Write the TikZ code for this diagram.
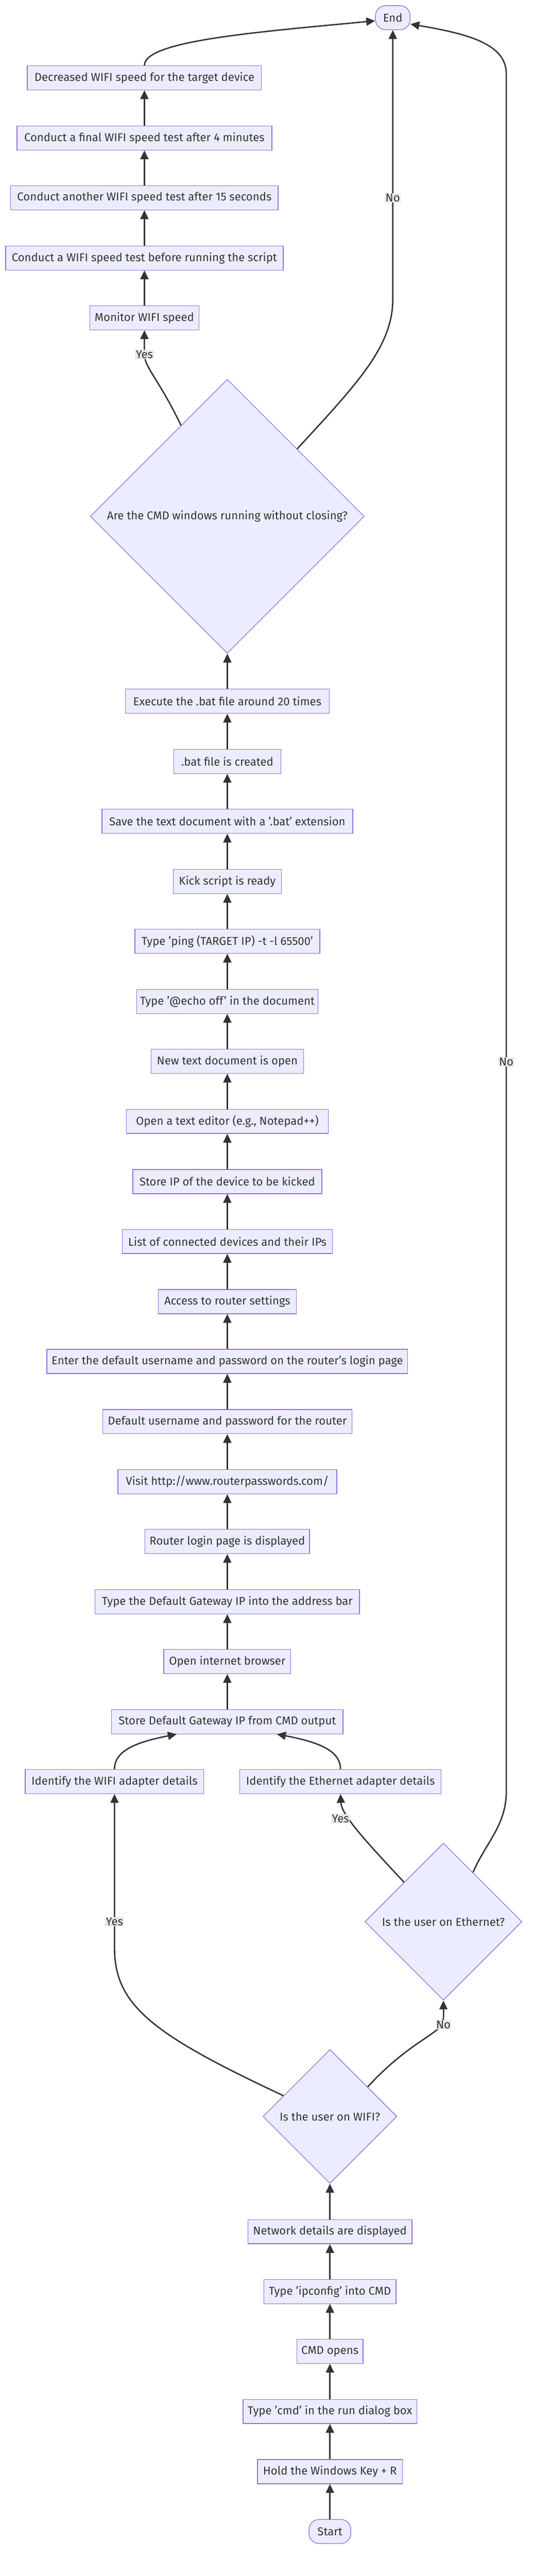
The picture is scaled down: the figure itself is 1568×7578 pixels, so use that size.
\documentclass[tikz,border=0pt]{standalone}
\usepackage{fontspec}
\setmainfont{Fira Sans}
\usetikzlibrary{shapes.geometric,arrows.meta}
\definecolor{nodefill}{HTML}{ECECFF}
\definecolor{nodestroke}{HTML}{9370DB}
\definecolor{edgecol}{HTML}{333333}
\definecolor{txtcol}{HTML}{333333}
\definecolor{lblbg}{HTML}{E8E8E8}
\begin{document}
\begin{tikzpicture}[x=1pt,y=-1pt,
  txt/.style={text=txtcol, font=\fontsize{33.5}{38}\selectfont},
  box/.style={txt, draw=nodestroke, fill=nodefill, line width=2pt, minimum height=71pt, inner sep=0pt},
  term/.style={box, rounded corners=30pt},
  decision/.style={txt, diamond, draw=nodestroke, fill=nodefill, line width=2pt, inner sep=0pt},
  flow/.style={draw=edgecol, line width=4pt, -{Triangle[length=26pt,width=24pt]}},
  lbl/.style={txt, fill=lblbg, inner sep=2pt}
]
\useasboundingbox (0,0) rectangle (1568,7578);
% nodes
\node[term, minimum width=102pt] (nEnd) at (1156,52) {End};
\node[box, minimum width=689pt] (dec) at (425,229) {Decreased WIFI speed for the target device};
\node[box, minimum width=750pt] (fin) at (425,406) {Conduct a final WIFI speed test after 4 minutes};
\node[box, minimum width=787pt] (ano) at (425,582) {Conduct another WIFI speed test after 15 seconds};
\node[box, minimum width=817pt] (bef) at (425,759) {Conduct a WIFI speed test before running the script};
\node[box, minimum width=321pt] (mon) at (425,935) {Monitor WIFI speed};
\node[decision, minimum width=806pt, minimum height=806pt] (cmdq) at (669,1519) {Are the CMD windows running without closing?};
\node[box, minimum width=600pt] (exe) at (669,2063) {Execute the .bat file around 20 times};
\node[box, minimum width=316pt] (bat) at (669,2240) {.bat file is created};
\node[box, minimum width=738pt] (save) at (669,2416) {Save the text document with a '.bat' extension};
\node[box, minimum width=318pt] (kick) at (669,2593) {Kick script is ready};
\node[box, minimum width=544pt] (ping) at (669,2769) {Type 'ping (TARGET IP) -t -l 65500'};
\node[box, minimum width=534pt] (echo) at (669,2946) {Type '@echo off' in the document};
\node[box, minimum width=448pt] (newdoc) at (669,3122) {New text document is open};
\node[box, minimum width=594pt] (editor) at (669,3299) {Open a text editor (e.g., Notepad++)};
\node[box, minimum width=556pt] (storeip) at (669,3476) {Store IP of the device to be kicked};
\node[box, minimum width=618pt] (list) at (669,3652) {List of connected devices and their IPs};
\node[box, minimum width=406pt] (access) at (669,3829) {Access to router settings};
\node[box, minimum width=1062pt] (enter) at (669,4005) {Enter the default username and password on the router's login page};
\node[box, minimum width=734pt] (default) at (669,4182) {Default username and password for the router};
\node[box, minimum width=644pt] (visit) at (669,4359) {Visit http://www.routerpasswords.com/};
\node[box, minimum width=484pt] (login) at (669,4535) {Router login page is displayed};
\node[box, minimum width=778pt] (gateway) at (669,4712) {Type the Default Gateway IP into the address bar};
\node[box, minimum width=374pt] (browser) at (669,4888) {Open internet browser};
\node[box, minimum width=681pt] (storegw) at (669,5065) {Store Default Gateway IP from CMD output};
\node[box, minimum width=525pt] (idwifi) at (337,5241) {Identify the WIFI adapter details};
\node[box, minimum width=592pt] (ideth) at (1002,5241) {Identify the Ethernet adapter details};
\node[decision, minimum width=462pt, minimum height=462pt] (ethq) at (1305,5653) {Is the user on Ethernet?};
\node[decision, minimum width=394pt, minimum height=394pt] (wifiq) at (971,6226) {Is the user on WIFI?};
\node[box, minimum width=483pt] (net) at (971,6565) {Network details are displayed};
\node[box, minimum width=389pt] (ipconfig) at (971,6741) {Type 'ipconfig' into CMD};
\node[box, minimum width=195pt] (cmdopens) at (971,6917) {CMD opens};
\node[box, minimum width=511pt] (typecmd) at (971,7094) {Type 'cmd' in the run dialog box};
\node[box, minimum width=426pt] (hold) at (971,7271) {Hold the Windows Key + R};
\node[term, minimum width=123pt] (start) at (971,7447) {Start};
% straight edges
\draw[flow] (start) -- (hold);
\draw[flow] (hold) -- (typecmd);
\draw[flow] (typecmd) -- (cmdopens);
\draw[flow] (cmdopens) -- (ipconfig);
\draw[flow] (ipconfig) -- (net);
\draw[flow] (net) -- (wifiq);
\draw[flow] (storegw) -- (browser);
\draw[flow] (browser) -- (gateway);
\draw[flow] (gateway) -- (login);
\draw[flow] (login) -- (visit);
\draw[flow] (visit) -- (default);
\draw[flow] (default) -- (enter);
\draw[flow] (enter) -- (access);
\draw[flow] (access) -- (list);
\draw[flow] (list) -- (storeip);
\draw[flow] (storeip) -- (editor);
\draw[flow] (editor) -- (newdoc);
\draw[flow] (newdoc) -- (echo);
\draw[flow] (echo) -- (ping);
\draw[flow] (ping) -- (kick);
\draw[flow] (kick) -- (save);
\draw[flow] (save) -- (bat);
\draw[flow] (bat) -- (exe);
\draw[flow] (exe) -- (cmdq);
\draw[flow] (mon) -- (bef);
\draw[flow] (bef) -- (ano);
\draw[flow] (ano) -- (fin);
\draw[flow] (fin) -- (dec);
% curved edges
\draw[flow] (dec.north) .. controls (425,120) and (750,95) .. (nEnd.190);
\draw[flow] (idwifi.north) .. controls (337,5150) and (400,5125) .. ([xshift=-149pt]storegw.south);
\draw[flow] (ideth.north) .. controls (1002,5150) and (939,5125) .. ([xshift=146pt]storegw.south);
\draw[flow] (wifiq.156) .. controls (450,5985) and (337,5900) .. (337,5730) -- (idwifi.south);
\draw[flow] (wifiq.38) .. controls (1200,6010) and (1290,5985) .. (1303,5950) .. controls (1307,5930) and (1305,5910) .. (ethq.south);
\draw[flow] (ethq.135) .. controls (1080,5420) and (1005,5340) .. (ideth.south);
\draw[flow] (ethq.59) .. controls (1430,5420) and (1490,5370) .. (1490,5270) -- (1490,217) .. controls (1490,130) and (1380,100) .. (nEnd.-20);
\draw[flow] (cmdq.117) .. controls (470,1120) and (425,1080) .. (425,1043) -- (mon.south);
\draw[flow] (cmdq.44) .. controls (1050,1130) and (1156,1020) .. (1156,880) -- (nEnd.south);
% labels
\node[lbl] (l1) at (425,1043) {Yes};
\node[lbl] (l2) at (1156,582) {No};
\node[lbl] (l3) at (1490,3123) {No};
\node[lbl] (l4) at (1002,5350) {Yes};
\node[lbl] (l5) at (337,5653) {Yes};
\node[lbl] (l6) at (1305,5956) {No};
\end{tikzpicture}
\end{document}
